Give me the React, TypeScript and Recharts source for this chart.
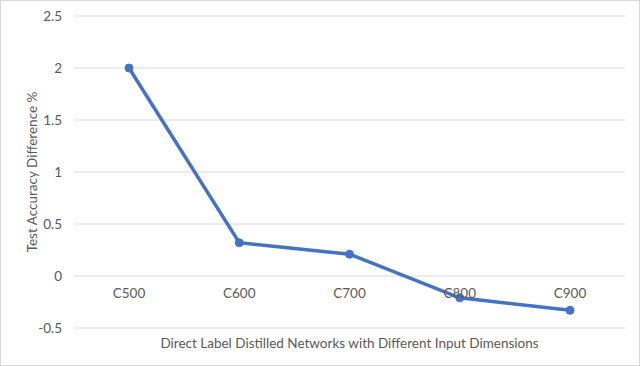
import React from 'react';
import { LineChart, Line, XAxis, YAxis, CartesianGrid, Label } from 'recharts';

const categories = ['C500', 'C600', 'C700', 'C800', 'C900'];
const accuracyDiff = [2.0, 0.32, 0.21, -0.21, -0.33];
const yTicks = [-0.5, 0, 0.5, 1, 1.5, 2, 2.5];

const chartData = categories.map((name, i) => ({ name, value: accuracyDiff[i] }));

const FONT = 'Lato, "Open Sans", sans-serif';
const TEXT = '#595959';

const CategoryTick = (props: any) => {
  const { x, y, payload } = props;
  return (
    <text x={x} y={y - 32} textAnchor="middle" fill={TEXT} fontSize={13.5} fontFamily={FONT}>
      {payload.value}
    </text>
  );
};

const App: React.FC = () => {
  return (
    <div style={{ position: 'absolute', left: 0, top: 0, width: 640, height: 366 }}>
      <div
        style={{
          position: 'absolute',
          left: 0,
          top: 0,
          width: 638,
          height: 364,
          border: '1px solid #d9d9d9',
          background: '#fff',
        }}
      />
      <LineChart
        width={640}
        height={366}
        data={chartData}
        margin={{ top: 16, right: 15, bottom: 8, left: 20 }}
        style={{ position: 'absolute', left: 0, top: 0 }}
      >
        <CartesianGrid vertical={false} stroke="#d9d9d9" strokeWidth={1} />
        <XAxis
          dataKey="name"
          axisLine={false}
          tickLine={false}
          tickSize={0}
          height={30}
          padding={{ left: 55, right: 55 }}
          tick={<CategoryTick />}
        >
          <Label
            value="Direct Label Distilled Networks with Different Input Dimensions"
            position="insideBottom"
            offset={10}
            fill={TEXT}
            fontSize={13.5}
            fontFamily={FONT}
          />
        </XAxis>
        <YAxis
          domain={[-0.5, 2.5]}
          ticks={yTicks}
          interval={0}
          axisLine={false}
          tickLine={false}
          tickSize={0}
          tickMargin={12}
          width={54}
          tick={{ fill: TEXT, fontSize: 13.5, fontFamily: FONT }}
        >
          <Label
            value="Test Accuracy Difference %"
            angle={-90}
            position="insideLeft"
            offset={12}
            style={{ textAnchor: 'middle' }}
            fill={TEXT}
            fontSize={13.5}
            fontFamily={FONT}
          />
        </YAxis>
        <Line
          type="linear"
          dataKey="value"
          stroke="#4472C4"
          strokeWidth={3.5}
          dot={{ r: 4, fill: '#4472C4', stroke: '#4472C4', strokeWidth: 1 }}
          isAnimationActive={false}
        />
      </LineChart>
    </div>
  );
};

export default App;
